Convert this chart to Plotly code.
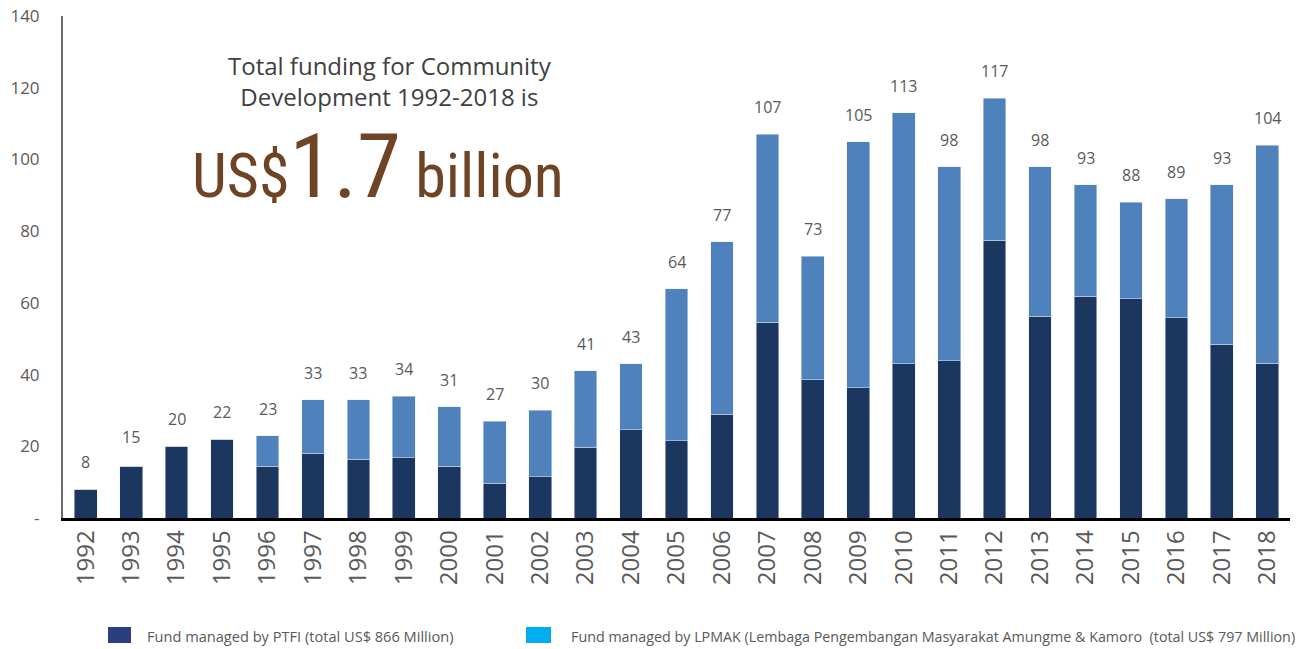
import plotly.graph_objects as go

years = [str(y) for y in range(1992, 2019)]
totals = [8, 15, 20, 22, 23, 33, 33, 34, 31, 27, 30, 41, 43, 64, 77, 107, 73, 105, 113, 98, 117, 98, 93, 88, 89, 93, 104]
ptfi = [8, 14.5, 20, 22, 14.5, 18, 16.4, 16.8, 14.5, 9.7, 11.5, 19.7, 24.6, 21.6, 29, 54.6, 38.5, 36.3, 43, 43.8, 77.5, 56.2, 61.8, 61.2, 55.8, 48.4, 43.2]
lpmak = [0, 0, 0, 0, 8.5, 15, 16.6, 17.2, 16.5, 17.3, 18.5, 21.3, 18.4, 42.4, 48, 52.4, 34.5, 68.7, 70, 54.2, 39.5, 41.8, 31.2, 26.8, 33.2, 44.6, 60.8]
y_ticks = [0, 20, 40, 60, 80, 100, 120, 140]
y_ticktext = ["-", "20", "40", "60", "80", "100", "120", "140"]

legend_ptfi = "Fund managed by PTFI (total US$ 866 Million)"
legend_lpmak = "Fund managed by LPMAK (Lembaga Pengembangan Masyarakat Amungme & Kamoro\u00a0 (total US$ 797 Million)"

DARK = "#1b3760"
LIGHT = "#4f81bd"
GRAY = "#595959"

# plot area in screenshot pixels (body margin removed via post_script)
PL, PR, PT, PB = 63, 1290, 16, 518
W, H = 1299, 649


def px(x):
    return (x - PL) / (PR - PL)


def py(y):
    return (PB - y) / (PB - PT)


fig = go.Figure()
fig.add_trace(go.Bar(x=years, y=ptfi, marker_color=DARK, width=0.5, showlegend=False, hoverinfo="skip"))
fig.add_trace(go.Bar(x=years, y=lpmak, marker_color=LIGHT, width=0.5, showlegend=False, hoverinfo="skip"))

for i, t in enumerate(totals):
    fig.add_annotation(x=i, y=t, text=str(t), showarrow=False, yanchor="middle", yshift=27,
                       font=dict(family="Open Sans, Liberation Sans, sans-serif", size=16, color=GRAY))

fig.add_annotation(xref="paper", yref="paper", x=px(390), y=py(81),
                   text="Total funding for Community<br>Development 1992-2018 is", showarrow=False,
                   align="center", xanchor="center", yanchor="middle",
                   font=dict(family="Open Sans, sans-serif", size=24, color="#404040"))

fig.add_annotation(xref="paper", yref="paper", x=px(378), y=py(167),
                   text="US$<span style='font-size:89px'>1.7</span> billion", showarrow=False,
                   xanchor="center", yanchor="middle",
                   font=dict(family="Liberation Sans Narrow, Roboto Condensed, DejaVu Sans Condensed, Roboto, sans-serif",
                             size=62, color="#6e4424"))

# legend (custom)
fig.add_shape(type="rect", xref="paper", yref="paper", x0=px(108), x1=px(131),
              y0=py(643), y1=py(627), fillcolor="#2b3f7f", line_width=0)
fig.add_shape(type="rect", xref="paper", yref="paper", x0=px(526), x1=px(551),
              y0=py(643), y1=py(627), fillcolor="#00aeef", line_width=0)
fig.add_annotation(xref="paper", yref="paper", x=px(145), y=py(636), text=legend_ptfi,
                   showarrow=False, xanchor="left", yanchor="middle",
                   font=dict(family="Open Sans, sans-serif", size=14.6, color=GRAY))
fig.add_annotation(xref="paper", yref="paper", x=px(569), y=py(636), text=legend_lpmak,
                   showarrow=False, xanchor="left", yanchor="middle",
                   font=dict(family="Open Sans, sans-serif", size=14.3, color=GRAY))

fig.update_layout(
    barmode="stack",
    width=W, height=H,
    margin=dict(l=PL, r=W - PR, t=PT, b=H - PB, autoexpand=False),
    plot_bgcolor="white", paper_bgcolor="white",
    xaxis=dict(type="category", tickangle=-90, showgrid=False, showline=True, linecolor="black", linewidth=2.5,
               ticks="", tickfont=dict(family="Open Sans, Liberation Sans, sans-serif", size=24, color=GRAY),
               range=[-0.5, 26.5], fixedrange=True),
    yaxis=dict(range=[0, 140], tickvals=y_ticks, ticktext=y_ticktext, showgrid=False, zeroline=False,
               showline=True, linecolor="#6b6b6b", linewidth=2, ticks="",
               tickfont=dict(family="Open Sans, Liberation Sans, sans-serif", size=17, color=GRAY),
               ticklabelstandoff=18, ticklabeloverflow="allow", fixedrange=True),
)

fig.write_html("out.html", config={"displayModeBar": False},
               post_script="document.body.style.margin='0px';document.body.style.overflow='hidden';")
